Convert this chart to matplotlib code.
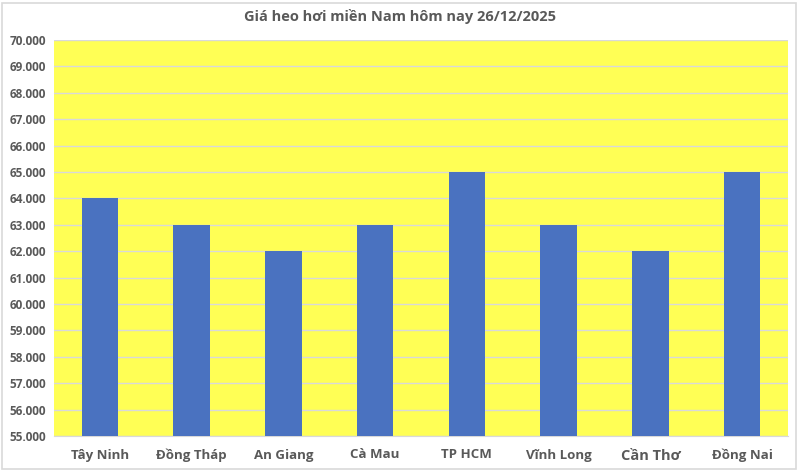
import matplotlib
matplotlib.use("Agg")
import matplotlib.pyplot as plt
from matplotlib.patches import Rectangle

plt.rcParams['font.family'] = ['Open Sans', 'DejaVu Sans']

provinces = ["Tây Ninh", "Đồng Tháp", "An Giang", "Cà Mau", "TP HCM", "Vĩnh Long", "Cần Thơ", "Đồng Nai"]
prices = [64000, 63000, 62000, 63000, 65000, 63000, 62000, 65000]
y_ticks = list(range(55000, 70001, 1000))
title = "Giá heo hơi miền Nam hôm nay 26/12/2025"

grey = "#595959"

fig = plt.figure(figsize=(8, 4.71), dpi=100)
fig.patch.set_facecolor("white")
fig.add_artist(Rectangle((0.003, 0.004), 0.992, 0.99, transform=fig.transFigure,
                         fill=False, edgecolor="#d9d9d9", linewidth=1.2))

ax = fig.add_axes([54 / 800, 1 - 436 / 471, (788 - 54) / 800, (436 - 40) / 471])
ax.set_facecolor("#ffff55")

x = range(len(provinces))
ax.bar(x, prices, width=0.4, color="#4a72c0", zorder=3)

ax.set_ylim(55000, 70000)
ax.set_xlim(-0.5, len(provinces) - 0.5)
ax.set_yticks(y_ticks)
# dot as thousands separator, e.g. 70.000
ax.set_yticklabels([f"{v // 1000}.{v % 1000:03d}" for v in y_ticks])
ax.set_xticks(list(x))
ax.set_xticklabels(provinces)

ax.grid(axis="y", color="#d9d9d9", linewidth=1, zorder=0)
for s in ax.spines.values():
    s.set_visible(False)
ax.spines["bottom"].set_visible(True)
ax.spines["bottom"].set_color("#d9d9d9")
ax.tick_params(axis="both", length=0, colors=grey)
ax.tick_params(axis="y", labelsize=8.5, pad=6)
ax.tick_params(axis="x", labelsize=9.5, pad=9)
for lbl in ax.get_yticklabels() + ax.get_xticklabels():
    lbl.set_fontweight("bold")
    lbl.set_color(grey)
# "Cần Thơ" is a bit larger than the other labels in the original
ax.get_xticklabels()[6].set_fontsize(10.5)

fig.text(0.5, 1 - 17 / 471, title, ha="center", va="center",
         fontsize=10.5, fontweight="bold", color=grey)

fig.savefig("out.png", dpi=100)
